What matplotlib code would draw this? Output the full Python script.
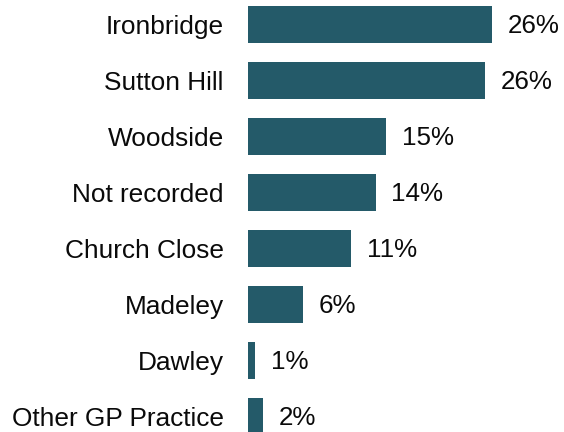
import matplotlib.pyplot as plt
import numpy as np

practices = ['Ironbridge', 'Sutton Hill', 'Woodside', 'Not recorded',
             'Church Close', 'Madeley', 'Dawley', 'Other GP Practice']
shares = [26.4, 25.6, 14.9, 13.8, 11.1, 5.9, 0.8, 1.6]

bar_color = '#245a69'

plt.rcParams['font.family'] = ['Liberation Sans', 'DejaVu Sans']

fig = plt.figure(figsize=(5.64, 4.32), dpi=100)
ax = fig.add_axes([248 / 564, 0, 316 / 564, 1])

y = np.arange(len(practices))
bars = ax.barh(y, shares, height=0.655, color=bar_color)

for rect, v in zip(bars, shares):
    ax.annotate(f'{v:.0f}%', (rect.get_width(), rect.get_y() + rect.get_height() / 2),
                xytext=(11.5, -1), textcoords='offset points',
                ha='left', va='center', fontsize=18.7, color='#0a0a0a')

ax.set_yticks(y)
ax.set_yticklabels(practices, fontsize=18.9, color='#0a0a0a')
ax.tick_params(axis='y', length=0, pad=17.5)
ax.set_xticks([])
ax.set_xlim(0, 34.2)
ax.set_ylim(7.28, -0.434)
for s in ax.spines.values():
    s.set_visible(False)

fig.savefig('out.png', dpi=100)
